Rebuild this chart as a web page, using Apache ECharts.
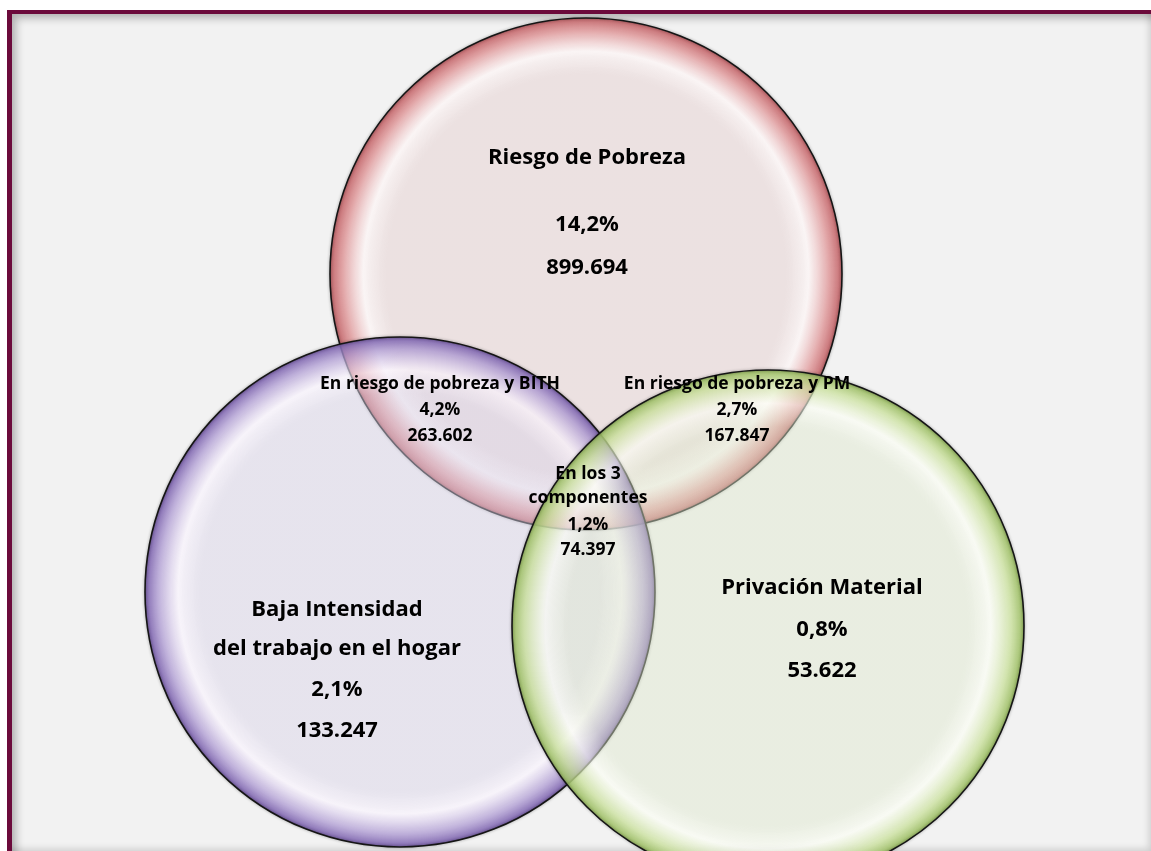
<!DOCTYPE html>
<html>
<head>
<meta charset="utf-8">
<script src="https://cdn.jsdelivr.net/npm/echarts@6/dist/echarts.min.js"></script>
<style>
  html, body { margin: 0; padding: 0; background: #ffffff; }
  #frame {
    position: absolute; left: 7px; top: 10px; right: 0; bottom: 0;
    background: #f2f2f2;
    border-left: 5px solid #6b0a3b;
    border-top: 4px solid #6b0a3b;
    box-shadow: inset 7px 7px 9px -3px rgba(0,0,0,0.28), inset -5px -5px 7px -3px rgba(0,0,0,0.15);
  }
  #chart { position: absolute; left: 0; top: 0; width: 1151px; height: 851px; }
</style>
</head>
<body>
<div id="frame"></div>
<div id="chart"></div>
<script>
// circles (venn sets) in chart units
const setNames = ['Riesgo de Pobreza', 'Baja Intensidad del trabajo en el hogar', 'Privación Material'];
const setX = [586, 400, 768];
const setY = [274, 592, 626];
const setR = [256, 255, 256];

// region texts
const regionTitles = [
  ['Riesgo de Pobreza'],
  ['En riesgo de pobreza y BITH'],
  ['En riesgo de pobreza y PM'],
  ['En los 3', 'componentes'],
  ['Baja Intensidad', 'del trabajo en el hogar'],
  ['Privación Material']
];
const regionPct = ['14,2%', '4,2%', '2,7%', '1,2%', '2,1%', '0,8%'];
const regionCount = ['899.694', '263.602', '167.847', '74.397', '133.247', '53.622'];

// where each text line sits (chart units)
const labelX = [587, 440, 737, 588, 337, 822];
const labelY = [
  [158, 225, 268],
  [384, 410, 436],
  [384, 410, 436],
  [474, 498, 525, 550],
  [610, 649, 690, 731],
  [588, 630, 671]
];
const bigRegions = [0, 4, 5];

const palettes = [
  { mid: 'rgba(228,204,204,0.45)', hi: 'rgba(255,246,246,0.6)', rim: 'rgba(220,140,142,0.75)', edge: 'rgba(190,95,100,0.95)' },
  { mid: 'rgba(216,210,232,0.45)', hi: 'rgba(250,244,255,0.6)', rim: 'rgba(170,150,208,0.75)', edge: 'rgba(118,92,168,0.95)' },
  { mid: 'rgba(222,232,204,0.45)', hi: 'rgba(252,255,244,0.6)', rim: 'rgba(198,222,150,0.75)', edge: 'rgba(148,182,92,0.95)' }
];

const circleData = setX.map((x, i) => ({ name: setNames[i], value: [x, setY[i], setR[i], i] }));

const textData = [];
regionTitles.forEach((title, i) => {
  const lines = title.concat([regionPct[i], regionCount[i]]);
  lines.forEach((t, j) => {
    textData.push({ value: [labelX[i], labelY[i][j], i], text: t });
  });
});

const chart = echarts.init(document.getElementById('chart'));
chart.setOption({
  animation: false,
  grid: { left: 0, right: 0, top: 0, bottom: 0 },
  xAxis: { type: 'value', min: 0, max: 1151, show: false },
  yAxis: { type: 'value', min: 0, max: 851, inverse: true, show: false },
  series: [
    {
      type: 'custom',
      coordinateSystem: 'cartesian2d',
      data: circleData,
      renderItem: function (params, api) {
        const c = api.coord([api.value(0), api.value(1)]);
        const r = api.size([api.value(2), 0])[0];
        const p = palettes[api.value(3)];
        return {
          type: 'group',
          children: [
            {
              type: 'circle',
              shape: { cx: c[0], cy: c[1], r: r },
              style: {
                fill: {
                  type: 'radial', x: 0.5, y: 0.5, r: 0.5,
                  colorStops: [
                    { offset: 0, color: p.mid },
                    { offset: 0.78, color: p.mid },
                    { offset: 0.87, color: p.hi },
                    { offset: 0.95, color: p.rim },
                    { offset: 1, color: p.edge }
                  ]
                }
              }
            },
            {
              type: 'circle',
              shape: { cx: c[0], cy: c[1], r: r },
              style: {
                fill: 'none',
                stroke: '#151515',
                lineWidth: 1.6,
                shadowBlur: 3,
                shadowColor: 'rgba(0,0,0,0.4)'
              }
            }
          ]
        };
      }
    },
    {
      type: 'custom',
      coordinateSystem: 'cartesian2d',
      data: textData,
      renderItem: function (params, api) {
        const c = api.coord([api.value(0), api.value(1)]);
        const big = bigRegions.indexOf(api.value(2)) >= 0;
        return {
          type: 'text',
          x: c[0], y: c[1],
          style: {
            text: textData[params.dataIndex].text,
            fill: '#000000',
            font: 'bold ' + (big ? 22 : 17.5) + 'px "Open Sans", sans-serif',
            align: 'center',
            verticalAlign: 'middle'
          }
        };
      }
    }
  ]
});
</script>
</body>
</html>
